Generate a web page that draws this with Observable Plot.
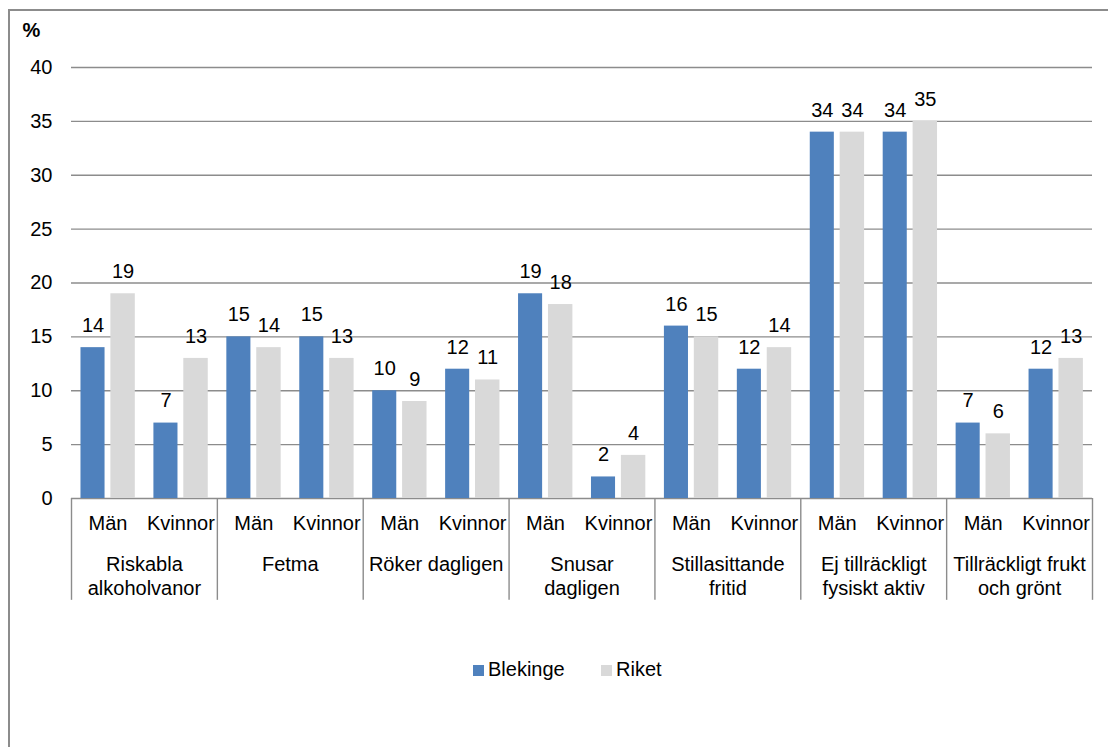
<!DOCTYPE html>
<html>
<head>
<meta charset="utf-8">
<script src="https://cdn.jsdelivr.net/npm/d3@7"></script>
<script src="https://cdn.jsdelivr.net/npm/@observablehq/plot@0.6"></script>
<style>
  html, body { margin: 0; padding: 0; background: #fff; overflow: hidden; width: 1108px; height: 747px; }
  body { position: relative; font-family: "Liberation Sans", Arial, sans-serif; }
  #frame { position: absolute; left: 8px; top: 9px; width: 1120px; height: 760px; border: 2px solid #8c8c8c; box-sizing: border-box; }
  #chart { position: absolute; left: 0; top: 0; }
  #legend { position: absolute; top: 657px; left: 0; width: 1108px; font-size: 20px; color: #000; }
  .item { position: absolute; top: 0; height: 24px; line-height: 24px; white-space: nowrap; }
  .sw { display: inline-block; width: 11px; height: 11px; margin-right: 4px; vertical-align: 0px; }
</style>
</head>
<body>
<div id="frame"></div>
<div id="chart"></div>
<div id="legend"></div>
<script>
// ---- data ----
const categories = ["Riskabla\nalkoholvanor", "Fetma", "Röker dagligen", "Snusar\ndagligen", "Stillasittande\nfritid", "Ej tillräckligt\nfysiskt aktiv", "Tillräckligt frukt\noch grönt"];
const sexes = ["Män", "Kvinnor"];
const seriesNames = ["Blekinge", "Riket"];
const blekinge = [14, 7, 15, 15, 10, 12, 19, 2, 16, 12, 34, 34, 7, 12];
const riket = [19, 13, 14, 13, 9, 11, 18, 4, 15, 14, 34, 35, 6, 13];
const yTicks = [0, 5, 10, 15, 20, 25, 30, 35, 40];
const colors = ["#4f81bd", "#d9d9d9"];

// ---- table ----
const sub = [];
categories.forEach((c, ci) => sexes.forEach((s, si) => sub.push({i: ci * 2 + si, cat: c, sex: s})));
const rows = [];
sub.forEach(d => {
  rows.push({i: d.i, sex: d.sex, cat: d.cat, series: seriesNames[0], value: blekinge[d.i]});
  rows.push({i: d.i, sex: d.sex, cat: d.cat, series: seriesNames[1], value: riket[d.i]});
});
const groups = categories.map((c, ci) => ({cat: c, mid: ci * 2 + 1}));
const bounds = d3.range(0, categories.length + 1).map(k => k * 2);

// bar layout within a sub-group (fractions of a sub-group slot)
const slot = {Blekinge: [0.13, 0.46], Riket: [0.54, 0.875]};
const cx = d => d.i + (slot[d.series][0] + slot[d.series][1]) / 2;
const axisDepth = -9.45; // separator depth below baseline (value units)
const FS = 20;

const plot = Plot.plot({
  width: 1108,
  height: 640,
  marginLeft: 71,
  marginRight: 16,
  marginTop: 67,
  marginBottom: 142,
  style: {fontFamily: "'Liberation Sans', Arial, sans-serif", fontSize: FS + "px", color: "#000", background: "transparent", overflow: "visible"},
  x: {domain: [0, sub.length], axis: null},
  y: {domain: [0, 40], axis: null},
  color: {domain: seriesNames, range: colors},
  marks: [
    Plot.ruleY(yTicks, {stroke: "#8c8c8c", strokeWidth: 1.4}),
    Plot.rectY(rows, {x1: d => d.i + slot[d.series][0], x2: d => d.i + slot[d.series][1], y: "value", fill: "series"}),
    Plot.text(rows, {x: cx, y: "value", text: d => String(d.value), lineAnchor: "middle", dy: -22, fill: "#000", fontSize: FS}),
    Plot.text(yTicks, {x: 0, y: d => d, text: d => String(d), lineAnchor: "middle", textAnchor: "end", dx: -19, fill: "#000", fontSize: FS}),
    Plot.text(["%"], {frameAnchor: "top-left", text: d => d, lineAnchor: "middle", textAnchor: "start", dx: -49, dy: -37, fontWeight: "bold", fontSize: FS, fill: "#000"}),
    Plot.ruleX(bounds, {y1: 0, y2: axisDepth, stroke: "#8c8c8c", strokeWidth: 1.4}),
    Plot.text(sub, {x: d => d.i + 0.5, frameAnchor: "bottom", text: "sex", lineAnchor: "middle", dy: 25, fill: "#000", fontSize: FS}),
    Plot.text(groups, {x: "mid", frameAnchor: "bottom", text: "cat", lineAnchor: "top", lineHeight: 1.2, dy: 55, fill: "#000", fontSize: FS})
  ]
});
document.getElementById("chart").appendChild(plot);

// legend
const legend = document.getElementById("legend");
const legendX = [473, 601];
seriesNames.forEach((s, k) => {
  const el = document.createElement("div");
  el.className = "item";
  el.style.left = legendX[k] + "px";
  el.innerHTML = `<span class="sw" style="background:${colors[k]}"></span>${s}`;
  legend.appendChild(el);
});
</script>
</body>
</html>
